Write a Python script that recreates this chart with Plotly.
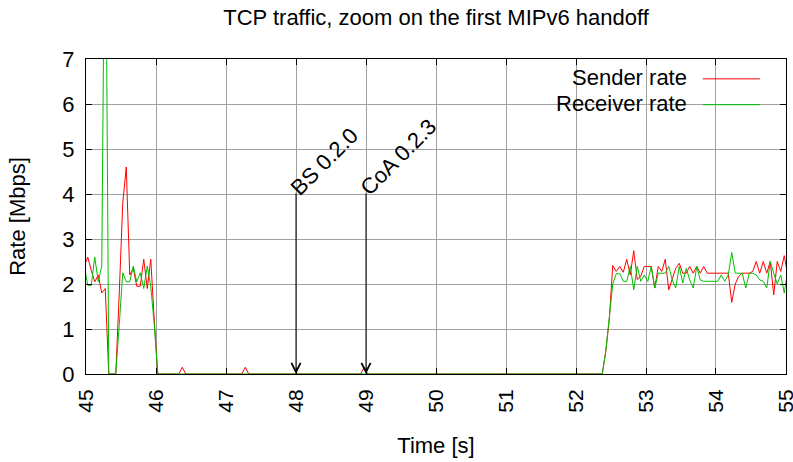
import plotly.graph_objects as go

# ---- data -------------------------------------------------------------
t_start = 44.975          # first sample time (s)
t_step = 0.05             # sampling period (s)

sender_head = [2.40, 2.60, 2.30, 2.05, 2.20, 1.80, 1.90, 0.0, 0.0, 0.0,
               1.80, 3.80, 4.60, 2.20, 2.35, 1.95, 1.95, 2.55, 1.90, 2.55,
               1.20]
receiver_head = [2.40, 1.97, 1.97, 2.60, 2.05, 2.40, 12.0, 0.0, 0.0, 0.0,
                 1.10, 2.25, 2.05, 2.05, 2.40, 2.05, 2.25, 1.90, 2.40, 1.95,
                 1.10]

# idle period 46.025 .. 52.425 (sender shows a few tiny retransmissions)
sender_gap = ([0.0] * 7 + [0.15] + [0.0] * 17 + [0.15] + [0.0] * 33 + [0.15]
              + [0.0] * 67 + [0.0, 0.5, 1.2])
receiver_gap = [0.0] * 127 + [0.0, 0.5, 1.2]

sender_tail = [2.41, 2.28, 2.39, 2.26, 2.55, 2.20, 2.74, 2.10, 2.17, 2.39,
               2.39, 2.39, 1.91, 2.39, 2.28, 2.55, 1.87, 2.09, 2.35, 2.46,
               2.24, 2.24, 2.39, 2.24, 2.39, 2.24, 2.39, 2.24, 2.24, 2.24,
               2.24, 2.24, 2.24, 2.24, 1.59, 2.00, 2.17, 2.24, 2.24, 2.24,
               2.28, 2.50, 2.24, 2.50, 2.24, 2.50, 1.76, 2.50, 2.28, 2.63,
               2.20]
receiver_tail = [2.00, 2.23, 2.23, 2.06, 2.06, 2.39, 1.87, 2.39, 2.06, 2.20,
                 2.06, 2.39, 1.91, 2.24, 2.24, 2.24, 2.39, 2.09, 1.91, 2.39,
                 2.02, 2.35, 2.09, 1.91, 2.39, 2.09, 2.06, 2.06, 2.06, 2.06,
                 2.06, 2.20, 2.06, 2.20, 2.70, 2.24, 2.24, 2.24, 1.91, 2.24,
                 2.24, 2.20, 2.09, 2.06, 1.91, 2.50, 2.24, 2.00, 2.20, 1.80,
                 2.30]

sender = sender_head + sender_gap + sender_tail
receiver = receiver_head + receiver_gap + receiver_tail
time = [round(t_start + i * t_step, 3) for i in range(len(sender))]

events = [48.0, 49.0]
event_labels = ["BS 0.2.0", "CoA 0.2.3"]
event_top = 4.05

x_ticks = list(range(45, 56))
y_ticks = list(range(0, 8))

# ---- figure -----------------------------------------------------------
FONT = "Liberation Sans, Arial, sans-serif"
RED = "#ff0000"
GREEN = "#00c000"
GRID = "#a0a0a0"

fig = go.Figure()
fig.add_trace(go.Scatter(x=time, y=sender, mode="lines", name="Sender rate",
                         line=dict(color=RED, width=1), showlegend=False))
fig.add_trace(go.Scatter(x=time, y=receiver, mode="lines", name="Receiver rate",
                         line=dict(color=GREEN, width=1), showlegend=False))

# event arrows + rotated labels
for xe, lab in zip(events, event_labels):
    fig.add_annotation(x=xe, y=0, ax=xe, ay=event_top, xref="x", yref="y",
                       axref="x", ayref="y", showarrow=True, arrowhead=5,
                       arrowsize=1.8, arrowwidth=1, arrowcolor="black", text="")
    fig.add_annotation(x=xe, y=event_top, xref="x", yref="y", text=lab,
                       showarrow=False, textangle=-45, xanchor="left",
                       yanchor="bottom", xshift=-13, yshift=-11,
                       font=dict(size=22, color="black", family=FONT))

# gnuplot-style key: white box, text right-aligned, sample line on the right
fig.add_shape(type="rect", xref="paper", yref="paper", x0=0.63, x1=0.981,
              y0=0.816, y1=1.0, fillcolor="white", line=dict(width=0),
              layer="between")
for name, col, yk in [("Sender rate", RED, 0.94), ("Receiver rate", GREEN, 0.858)]:
    fig.add_annotation(x=0.862, y=yk, xref="paper", yref="paper", text=name,
                       showarrow=False, xanchor="right", yanchor="middle",
                       font=dict(size=22, color="black", family=FONT))
    fig.add_shape(type="line", xref="paper", yref="paper", x0=0.881, x1=0.963,
                  y0=yk - 0.003, y1=yk - 0.003, line=dict(color=col, width=1))

axis_common = dict(showgrid=True, gridcolor=GRID, gridwidth=1, zeroline=False,
                   showline=True, linecolor="black", linewidth=1, mirror="ticks",
                   ticks="inside", ticklen=6, tickcolor="black",
                   ticklabeloverflow="allow", automargin=False)

fig.update_xaxes(range=[44.9999, 55.0001], tickvals=x_ticks, tickangle=-90,
                 ticklabelstandoff=6,
                 tickfont=dict(size=21, color="black", family=FONT),
                 title=dict(text="Time [s]", font=dict(size=22, family=FONT),
                            standoff=25),
                 **axis_common)
fig.update_yaxes(range=[0, 7.0001], tickvals=y_ticks, ticklabelstandoff=6,
                 tickfont=dict(size=22, color="black", family=FONT),
                 title=dict(text="Rate [Mbps]", font=dict(size=22, family=FONT),
                            standoff=30),
                 **axis_common)

fig.update_layout(
    width=793, height=462,
    margin=dict(l=86, r=7, t=59, b=88, pad=0, autoexpand=False),
    paper_bgcolor="white", plot_bgcolor="white",
    title=dict(text="TCP traffic, zoom on the first MIPv6 handoff",
               xref="paper", x=0.5, xanchor="center", y=0.962, yanchor="middle",
               font=dict(size=22, color="black", family=FONT)),
    font=dict(family=FONT, color="black"),
    showlegend=False,
)

fig.write_html("out.html")
